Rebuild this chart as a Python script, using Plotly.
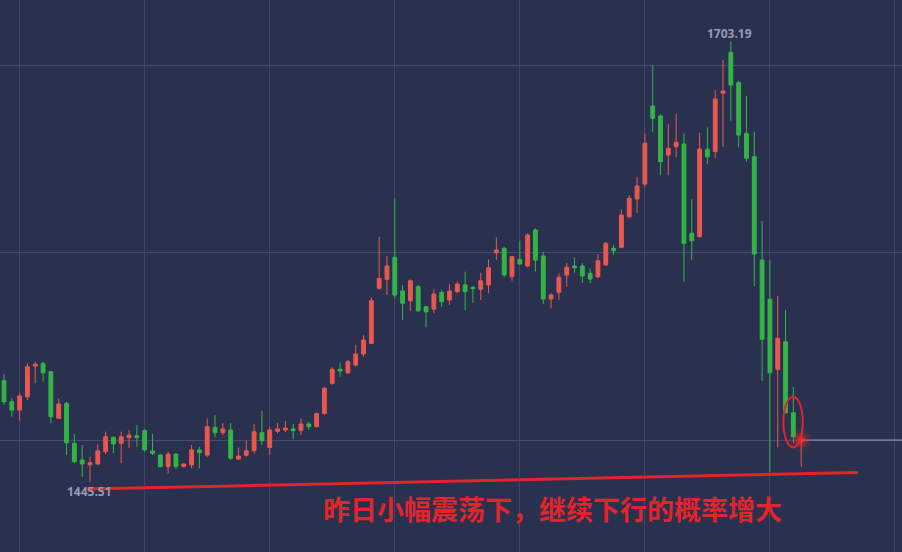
import plotly.graph_objects as go

# ---- data ----
idx = list(range(103))
opens = [1504.6, 1492.3, 1487.5, 1495.3, 1513.2, 1514.8, 1509.9, 1482.6, 1491.4, 1468.0,
         1458.2, 1455.4, 1455.9, 1463.1, 1471.5, 1468.0, 1471.3, 1472.4, 1475.4, 1463.5,
         1461.1, 1454.3, 1461.7, 1454.3, 1455.3, 1464.1, 1461.1, 1477.3, 1474.2, 1475.8,
         1458.8, 1461.0, 1463.6, 1474.2, 1465.6, 1475.0, 1475.8, 1476.4, 1475.4, 1479.3,
         1477.7, 1485.5, 1503.1, 1511.3, 1509.3, 1513.8, 1520.3, 1526.5, 1558.8, 1564.0,
         1576.9, 1557.2, 1551.5, 1559.7, 1548.0, 1546.5, 1556.4, 1551.9, 1556.8, 1560.7,
         1559.3, 1558.2, 1560.7, 1579.6, 1582.2, 1565.5, 1575.7, 1571.8, 1592.9, 1577.7,
         1552.5, 1556.4, 1566.5, 1571.8, 1571.8, 1567.5, 1565.5, 1572.4, 1582.2, 1582.8,
         1600.7, 1611.1, 1619.8, 1665.5, 1659.7, 1636.8, 1641.7, 1643.3, 1591.0, 1589.0,
         1640.2, 1638.8, 1673.0, 1697.0, 1679.2, 1649.5, 1635.8, 1575.3, 1552.3, 1511.3,
         1527.5, 1485.9, 1469.2]
highs = [1508.6, 1494.5, 1497.3, 1514.8, 1515.8, 1515.8, 1510.2, 1494.3, 1492.3, 1473.4,
         1467.0, 1460.1, 1467.6, 1474.8, 1471.9, 1474.8, 1475.8, 1478.7, 1476.2, 1473.4,
         1461.7, 1463.1, 1462.1, 1456.3, 1467.0, 1466.0, 1482.6, 1484.6, 1480.0, 1480.0,
         1465.6, 1469.5, 1479.3, 1487.1, 1477.7, 1480.0, 1481.2, 1479.3, 1482.6, 1480.6,
         1485.9, 1501.1, 1512.5, 1515.4, 1516.8, 1525.5, 1531.4, 1553.5, 1589.0, 1577.7,
         1611.5, 1560.7, 1564.0, 1560.7, 1548.4, 1558.2, 1557.8, 1561.3, 1562.6, 1568.5,
         1560.1, 1567.9, 1575.7, 1588.6, 1583.1, 1577.7, 1586.6, 1591.0, 1593.9, 1580.2,
         1555.8, 1567.5, 1573.7, 1576.9, 1573.7, 1570.5, 1578.8, 1586.0, 1584.1, 1605.0,
         1613.4, 1624.1, 1649.5, 1689.5, 1660.7, 1655.0, 1660.8, 1649.5, 1610.9, 1649.9,
         1653.0, 1674.9, 1692.5, 1703.19, 1680.3, 1671.4, 1650.5, 1598.2, 1575.3, 1554.2,
         1546.0, 1501.1, 1471.8]
lows = [1490.4, 1483.6, 1481.2, 1493.3, 1503.1, 1504.1, 1479.7, 1482.4, 1461.1, 1456.3,
        1448.4, 1445.51, 1455.3, 1461.7, 1462.1, 1456.3, 1465.1, 1466.0, 1463.1, 1461.1,
        1453.9, 1450.4, 1452.8, 1453.9, 1453.3, 1453.3, 1459.8, 1471.5, 1472.8, 1458.2,
        1458.2, 1460.1, 1462.1, 1467.0, 1461.1, 1473.8, 1474.6, 1470.3, 1472.8, 1475.8,
        1477.3, 1484.6, 1502.1, 1507.0, 1508.6, 1512.8, 1518.7, 1526.1, 1557.8, 1554.8,
        1552.9, 1540.2, 1545.6, 1545.0, 1535.9, 1544.1, 1548.0, 1549.0, 1555.8, 1546.0,
        1550.3, 1551.9, 1555.8, 1575.3, 1565.2, 1563.2, 1572.4, 1571.1, 1568.5, 1549.6,
        1547.0, 1551.9, 1559.7, 1567.9, 1562.0, 1561.7, 1564.6, 1571.8, 1578.3, 1582.2,
        1599.7, 1603.0, 1618.3, 1650.5, 1625.1, 1625.1, 1635.5, 1562.6, 1575.3, 1588.6,
        1631.5, 1634.9, 1641.7, 1656.9, 1641.3, 1632.9, 1560.1, 1504.6, 1451.3, 1465.6,
        1485.5, 1468.0, 1454.3]
closes = [1492.3, 1487.5, 1495.7, 1512.8, 1514.3, 1509.3, 1483.6, 1491.0, 1468.3, 1457.2,
          1455.9, 1456.6, 1463.6, 1471.8, 1467.6, 1471.8, 1472.8, 1471.3, 1464.1, 1462.1,
          1454.3, 1461.7, 1454.3, 1455.9, 1464.1, 1462.5, 1477.7, 1474.2, 1476.4, 1459.2,
          1460.5, 1463.6, 1474.8, 1469.5, 1475.8, 1476.4, 1476.9, 1475.4, 1479.3, 1477.7,
          1485.5, 1500.2, 1511.3, 1510.3, 1515.8, 1520.3, 1528.5, 1551.5, 1564.6, 1571.8,
          1554.8, 1550.0, 1563.2, 1545.6, 1545.0, 1555.4, 1550.9, 1557.2, 1561.3, 1556.8,
          1558.5, 1563.2, 1570.8, 1581.2, 1566.5, 1577.3, 1573.0, 1590.0, 1575.3, 1552.5,
          1554.8, 1565.2, 1571.1, 1570.8, 1566.0, 1564.2, 1574.9, 1585.1, 1580.8, 1601.7,
          1611.5, 1618.7, 1643.7, 1658.3, 1632.9, 1640.7, 1644.3, 1585.1, 1586.6, 1640.3,
          1635.8, 1669.6, 1674.3, 1677.8, 1648.5, 1634.9, 1578.8, 1528.9, 1509.3, 1529.5,
          1485.9, 1471.8, 1469.9]

high_label = "1703.19"
low_label = "1445.51"
note_text = "昨日小幅震荡下，继续下行的概率增大"

# hand-drawn annotation geometry (data coords)
trend_start = (10.36, 1441.2)
trend_end = (109.28, 1450.9)
ellipse_box = (99.72, 1465.6, 102.2, 1495.3)

BG = "#29314f"
RED = "#ea5750"
GREEN = "#33b546"
MARK = "#e2242c"

fig = go.Figure()
fig.add_trace(go.Candlestick(
    x=idx, open=opens, high=highs, low=lows, close=closes,
    increasing=dict(line=dict(color=RED, width=1), fillcolor=RED),
    decreasing=dict(line=dict(color=GREEN, width=1), fillcolor=GREEN),
    whiskerwidth=0, hoverinfo="skip", showlegend=False,
))

last_i = idx[-1]
last_c = closes[-1]
# last-price line
fig.add_trace(go.Scatter(x=[last_i, 116], y=[last_c, last_c], mode="lines",
                         line=dict(color="#9aa2bd", width=1), hoverinfo="skip",
                         showlegend=False))
# glow dot at last price
for s, op in [(24, 0.1), (15, 0.22), (9, 0.45), (4, 1.0)]:
    fig.add_trace(go.Scatter(x=[last_i - 0.1], y=[last_c], mode="markers",
                             marker=dict(size=s, color="#ff2a2a", opacity=op,
                                         line=dict(width=0)),
                             hoverinfo="skip", showlegend=False))

fig.add_shape(type="line", xref="x", yref="y",
              x0=trend_start[0], y0=trend_start[1], x1=trend_end[0], y1=trend_end[1],
              line=dict(color=MARK, width=3))
fig.add_shape(type="circle", xref="x", yref="y",
              x0=ellipse_box[0], y0=ellipse_box[1], x1=ellipse_box[2], y1=ellipse_box[3],
              line=dict(color=MARK, width=2))

hi_i = highs.index(max(highs))
lo_i = lows.index(min(lows))
fig.add_annotation(x=hi_i - 0.2, y=highs[hi_i], text="<b>" + high_label + "</b>",
                   showarrow=False, yanchor="bottom", yshift=-2,
                   font=dict(family="Open Sans, Arial", size=12, color="#939bb2"))
fig.add_annotation(x=lo_i - 0.1, y=lows[lo_i], text="<b>" + low_label + "</b>",
                   showarrow=False, yanchor="top", yshift=1,
                   font=dict(family="Open Sans, Arial", size=12, color="#939bb2"))
fig.add_annotation(xref="paper", yref="paper", x=0.356, y=0.0797,
                   xanchor="left", yanchor="middle", text="<b>" + note_text + "</b>",
                   showarrow=False,
                   font=dict(family="Noto Sans CJK SC", size=27, color=MARK))

fig.update_layout(
    width=902, height=552, margin=dict(l=0, r=0, t=0, b=0),
    paper_bgcolor=BG, plot_bgcolor=BG,
    xaxis=dict(range=[-0.512, 114.9], tickvals=[2, 18, 34, 50, 66, 82, 98, 114],
               showticklabels=False, showgrid=True, gridcolor="#3c466a", gridwidth=1,
               zeroline=False, rangeslider=dict(visible=False), showline=False),
    yaxis=dict(range=[1404.33, 1727.6], tickvals=[1469.9, 1579.9, 1689.5],
               showticklabels=False, showgrid=True, gridcolor="#434d71", gridwidth=1,
               zeroline=False, showline=False),
)

fig.write_html("out.html", config={"displayModeBar": False},
               post_script="document.body.style.margin='0';document.body.style.padding='0';"
                           "document.body.style.overflow='hidden';"
                           "document.body.style.background='" + BG + "';")
